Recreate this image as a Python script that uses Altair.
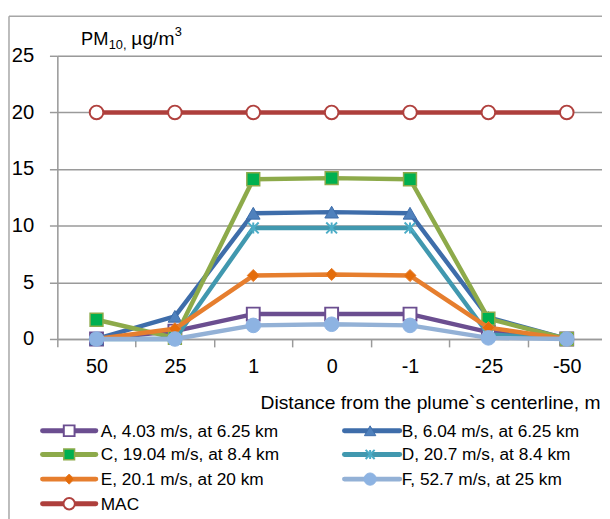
import altair as alt
import pandas as pd

# ---------------- data ----------------
categories = ["50", "25", "1", "0", "-1", "-25", "-50"]
series_names = [
    "A, 4.03 m/s, at 6.25 km",
    "B, 6.04 m/s, at 6.25 km",
    "C, 19.04 m/s, at 8.4 km",
    "D, 20.7 m/s, at 8.4 km",
    "E, 20.1 m/s, at 20 km",
    "F, 52.7 m/s, at 25 km",
    "MAC",
]
a_vals = [0.0, 0.7, 2.2, 2.2, 2.2, 0.6, 0.0]
b_vals = [0.0, 2.0, 11.1, 11.2, 11.1, 1.9, 0.0]
c_vals = [1.7, 0.1, 14.1, 14.2, 14.1, 1.8, 0.0]
d_vals = [0.0, 0.0, 9.8, 9.8, 9.8, 0.4, 0.0]
e_vals = [0.0, 0.9, 5.6, 5.7, 5.6, 1.0, 0.0]
f_vals = [0.0, 0.0, 1.2, 1.3, 1.2, 0.1, 0.0]
mac_vals = [20, 20, 20, 20, 20, 20, 20]
y_ticks = [0, 5, 10, 15, 20, 25]
x_title = "Distance from the plume`s centerline, m"

all_vals = [a_vals, b_vals, c_vals, d_vals, e_vals, f_vals, mac_vals]

FONT = "Liberation Sans"
ASTER = "M-1,-1L1,1M-1,1L1,-1M0,-1L0,1"

# style per series: line colour, shape, size, fill, stroke, strokeWidth
styles = [
    ("#6B4E90", "square", 170, "#FFFFFF", "#6B4E90", 2),
    ("#3E6DAA", "triangle-up", 190, "#4F81BD", "#3E6DAA", 1),
    ("#8DAA4A", "square", 170, "#00B050", "#8DAA4A", 1.5),
    ("#4198AF", ASTER, 120, None, "#4BACC6", 2),
    ("#E67E2E", "diamond", 150, "#E46C0A", "#E67E2E", 1),
    ("#93B1D6", "circle", 220, "#8DB3E2", "#8DB3E2", 1),
    ("#AE3F3C", "circle", 190, "#FFFFFF", "#B0413E", 2),
]

W, H = 552, 287

xscale = alt.Scale(type="band", domain=categories, range=[0, 556],
                   paddingInner=0, paddingOuter=0)
yscale = alt.Scale(domain=[0, 25], nice=False)
xaxis = alt.Axis(title=x_title, labelAngle=0, tickBand="extent",
                 domainColor="#9A9A9A", domainWidth=1.5, tickColor="#9A9A9A",
                 tickWidth=1.5, tickSize=8, labelFontSize=20, labelFont=FONT,
                 labelColor="#000000", labelPadding=10, grid=False,
                 titleFont=FONT, titleFontSize=19.5, titleFontWeight="normal",
                 titleColor="#000000", titleX=550, titleY=70,
                 titleAlign="right", titleBaseline="alphabetic")
yaxis = alt.Axis(title=None, values=y_ticks, grid=True, gridColor="#9A9A9A",
                 gridWidth=1.5, domainColor="#9A9A9A", domainWidth=1.5,
                 tickColor="#9A9A9A", tickWidth=1.5, tickSize=8,
                 labelFontSize=20.5, labelFont=FONT, labelColor="#000000",
                 labelPadding=16)

layers = []
for name, vals, st in zip(series_names, all_vals, styles):
    lc, shape, size, fill, stroke, sw = st
    df = pd.DataFrame({"dist": categories, "value": vals, "series": name})
    base = alt.Chart(df).encode(
        x=alt.X("dist:N", sort=categories, scale=xscale, axis=xaxis,
                bandPosition=0.5),
        y=alt.Y("value:Q", scale=yscale, axis=yaxis),
    )
    layers.append(base.mark_line(color=lc, strokeWidth=4.5,
                                 strokeJoin="round", strokeCap="round"))
    if fill is None:
        pts = base.mark_point(shape=shape, size=size, filled=False,
                              stroke=stroke, strokeWidth=sw, opacity=1)
    else:
        pts = base.mark_point(shape=shape, size=size, filled=True, fill=fill,
                              stroke=stroke, strokeWidth=sw, opacity=1)
    layers.append(pts)

# ---------------- legend (manual) ----------------
leg_rows = [380, 404, 429, 454]
leg_cols = [(-15, 39, 12, 44), (291, 347, 317, 349)]
for i, (name, st) in enumerate(zip(series_names, styles)):
    lc, shape, size, fill, stroke, sw = st
    row = leg_rows[i // 2]
    c = leg_cols[i % 2]
    ldf = pd.DataFrame({"t": [name]})
    lb = alt.Chart(ldf)
    layers.append(lb.mark_rule(color=lc, strokeWidth=5, strokeCap="round").encode(
        x=alt.value(c[0]), x2=alt.value(c[1]), y=alt.value(row)))
    psize = size * 0.7
    if fill is None:
        layers.append(lb.mark_point(shape=shape, size=psize, filled=False,
                                    stroke=stroke, strokeWidth=sw, opacity=1).encode(
            x=alt.value(c[2]), y=alt.value(row)))
    else:
        layers.append(lb.mark_point(shape=shape, size=psize, filled=True,
                                    fill=fill, stroke=stroke, strokeWidth=sw,
                                    opacity=1).encode(
            x=alt.value(c[2]), y=alt.value(row)))
    layers.append(lb.mark_text(font=FONT, fontSize=17.5, align="left",
                               baseline="middle", color="#000000").encode(
        x=alt.value(c[3]), y=alt.value(row + 1), text="t:N"))

# ---------------- y title: PM10, µg/m3 ----------------
title_parts = [("PM", 24, -11, 18.5), ("10,", 52, -7, 13), ("µg/m", 75, -11, 19.5),
               ("3", 119, -20, 13)]
for txt, tx, ty, fs in title_parts:
    tdf = pd.DataFrame({"t": [txt]})
    layers.append(alt.Chart(tdf).mark_text(font=FONT, fontSize=fs, align="left",
                                           baseline="alphabetic",
                                           color="#000000").encode(
        x=alt.value(tx), y=alt.value(ty), text="t:N"))

# ---------------- outer frame ----------------
fdf = pd.DataFrame({"k": [0]})
layers.append(alt.Chart(fdf).mark_rule(color="#A6A6A6", strokeWidth=1.5).encode(
    x=alt.value(-49), y=alt.value(-40), y2=alt.value(470)))
layers.append(alt.Chart(fdf).mark_rule(color="#A6A6A6", strokeWidth=1.5).encode(
    x=alt.value(-49), x2=alt.value(560), y=alt.value(-40)))

chart = alt.layer(*layers).properties(
    width=W, height=H,
    autosize=alt.AutoSizeParams(type="none"),
    padding={"left": 50, "top": 45, "right": 0, "bottom": 179},
).configure_view(stroke=None).configure(font=FONT)

chart.save("out.html", embed_options={"renderer": "svg", "actions": False})
